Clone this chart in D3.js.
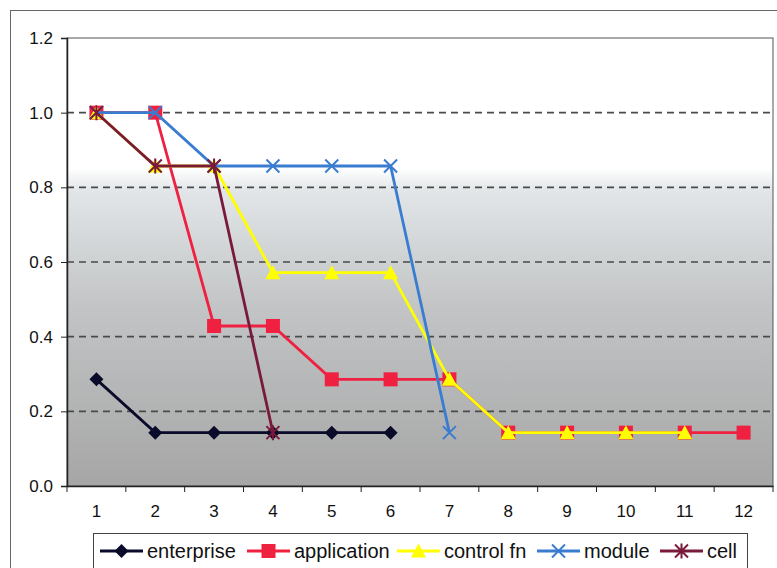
<!DOCTYPE html>
<html><head><meta charset="utf-8">
<script src="https://cdn.jsdelivr.net/npm/d3@7/dist/d3.min.js"></script>
<style>body{margin:0;background:#fff;}svg{display:block;font-family:Arial,"Liberation Sans",sans-serif;}</style>
</head><body>
<svg id="c" width="777" height="568"></svg>
<script>
const categories = ["1","2","3","4","5","6","7","8","9","10","11","12"];
const seriesNames = ["enterprise","application","control fn","module","cell"];
const enterprise = [0.2857,0.1429,0.1429,0.1429,0.1429,0.1429,null,null,null,null,null,null];
const application = [1,1,0.4286,0.4286,0.2857,0.2857,0.2857,0.1429,0.1429,0.1429,0.1429,0.1429];
const controlFn = [1,0.8571,0.8571,0.5714,0.5714,0.5714,0.2857,0.1429,0.1429,0.1429,0.1429,null];
const moduleS = [1,1,0.8571,0.8571,0.8571,0.8571,0.1429,null,null,null,null,null];
const cell = [1,0.8571,0.8571,0.1429,null,null,null,null,null,null,null,null];
const yTicks = [0,0.2,0.4,0.6,0.8,1.0,1.2];

const seriesValues = [enterprise, application, controlFn, moduleS, cell];
const colors = ["#0a0a2a","#f02040","#ffff00","#3a7cd0","#7a1a3a"];
const markers = ["diamond","square","triangle","x","asterisk"];

const svg = d3.select("#c");
const L=67, T=38, R=773, B=486;
const x = d3.scaleBand().domain(categories).range([L,R]);
const y = d3.scaleLinear().domain([0,1.2]).range([B,T]);

svg.append("rect").attr("x",10.5).attr("y",10.5).attr("width",790).attr("height",600)
  .attr("fill","none").attr("stroke","#666").attr("stroke-width",1);

const defs = svg.append("defs");
const g = defs.append("linearGradient").attr("id","bg").attr("x1",0).attr("y1",0).attr("x2",0).attr("y2",1);
g.append("stop").attr("offset","0").attr("stop-color","#ffffff");
g.append("stop").attr("offset","0.29").attr("stop-color","#ffffff");
g.append("stop").attr("offset","0.34").attr("stop-color","#e2e6e8");
g.append("stop").attr("offset","0.6").attr("stop-color","#c2c4c5");
g.append("stop").attr("offset","1").attr("stop-color","#a6a6a6");

svg.append("rect").attr("x",L).attr("y",T).attr("width",R-L).attr("height",B-T)
  .attr("fill","url(#bg)").attr("stroke","#555").attr("stroke-width",1);

svg.append("g").selectAll("line").data(yTicks.filter(d=>d>0 && d<1.2)).join("line")
  .attr("x1",L).attr("x2",R).attr("y1",d=>y(d)).attr("y2",d=>y(d))
  .attr("stroke","#4a4a4a").attr("stroke-width",1.6).attr("stroke-dasharray","7,5");

const yAxis = d3.axisLeft(y).tickValues(yTicks).tickFormat(d3.format(".1f")).tickSize(6).tickPadding(8);
const ya = svg.append("g").attr("transform",`translate(${L},0)`).call(yAxis);
ya.attr("font-size",17).attr("font-family","Arial, Liberation Sans, sans-serif");
ya.select(".domain").attr("stroke","#222").attr("stroke-width",1.5);
ya.selectAll(".tick line").attr("stroke","#222");
ya.selectAll("text").attr("fill","#111");

const xAxis = d3.axisBottom(x).tickSize(0).tickPadding(19);
const xa = svg.append("g").attr("transform",`translate(0,${B})`).call(xAxis);
xa.attr("font-size",17).attr("font-family","Arial, Liberation Sans, sans-serif");
xa.select(".domain").attr("stroke","#222").attr("stroke-width",1.5);
xa.selectAll("text").attr("fill","#111");
svg.append("g").selectAll("line").data(d3.range(categories.length+1)).join("line")
  .attr("x1",i=>L+i*x.step()).attr("x2",i=>L+i*x.step()).attr("y1",B).attr("y2",B+6)
  .attr("stroke","#222");

function drawMarker(sel, type, color){
  if(type==="diamond"){
    sel.append("path").attr("d","M0,-7L7,0L0,7L-7,0Z").attr("fill",color);
  } else if(type==="square"){
    sel.append("rect").attr("x",-7).attr("y",-7).attr("width",14).attr("height",14).attr("fill",color);
  } else if(type==="triangle"){
    sel.append("path").attr("d","M0,-7.5L7.5,6.5L-7.5,6.5Z").attr("fill",color);
  } else if(type==="x"){
    sel.append("path").attr("d","M-6.5,-6.5L6.5,6.5M-6.5,6.5L6.5,-6.5").attr("stroke",color).attr("stroke-width",2).attr("fill","none");
  } else if(type==="asterisk"){
    sel.append("path").attr("d","M-6.5,-6.5L6.5,6.5M-6.5,6.5L6.5,-6.5M0,-7.5L0,7.5").attr("stroke",color).attr("stroke-width",2).attr("fill","none");
  }
}

const line = d3.line().defined(d=>d.v!==null).x(d=>x(d.c)+x.bandwidth()/2).y(d=>y(d.v));
seriesValues.forEach((vals,si)=>{
  const data = vals.map((v,i)=>({c:categories[i],v}));
  svg.append("path").datum(data).attr("d",line).attr("fill","none")
    .attr("stroke",colors[si]).attr("stroke-width",2.8);
  data.filter(d=>d.v!==null).forEach(d=>{
    const m = svg.append("g").attr("transform",`translate(${x(d.c)+x.bandwidth()/2},${y(d.v)})`);
    drawMarker(m, markers[si], colors[si]);
  });
});

const leg = svg.append("g");
leg.append("rect").attr("x",93.5).attr("y",533.5).attr("width",654).attr("height",50)
  .attr("fill","#fff").attr("stroke","#444");
const legX = [100,247,397,537,660];
seriesNames.forEach((n,i)=>{
  const gi = leg.append("g").attr("transform",`translate(${legX[i]},0)`);
  gi.append("line").attr("x1",0).attr("x2",43).attr("y1",551).attr("y2",551)
    .attr("stroke",colors[i]).attr("stroke-width",2.8);
  const m = gi.append("g").attr("transform","translate(21.5,551)");
  drawMarker(m, markers[i], colors[i]);
  gi.append("text").attr("x",47).attr("y",558).attr("font-size",20).attr("fill","#111").text(n);
});
</script>
</body></html>
